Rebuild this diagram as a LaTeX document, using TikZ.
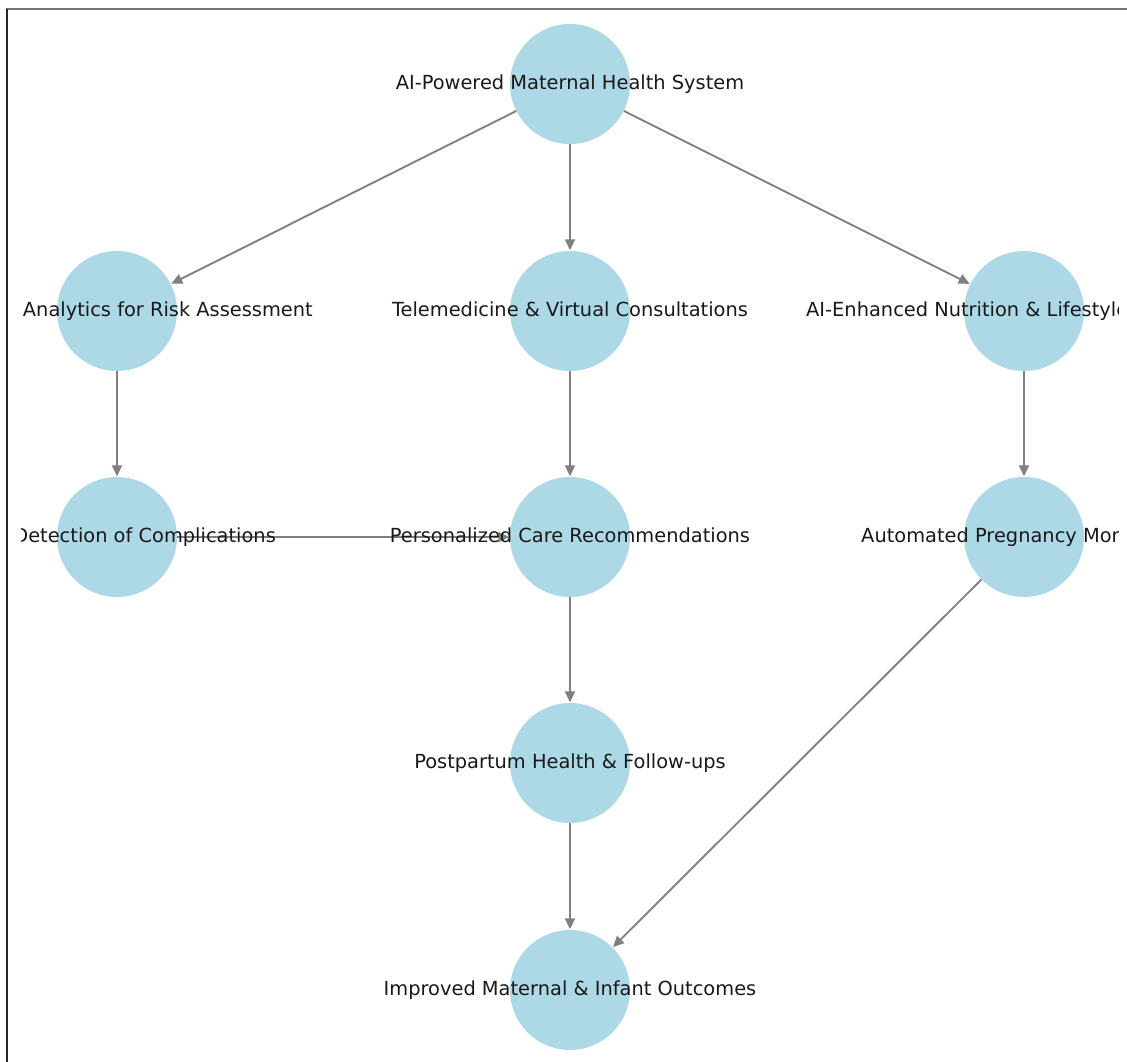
\documentclass[tikz,border=0pt]{standalone}
\usepackage{fontspec}
\setmainfont{DejaVu Sans}
\usetikzlibrary{arrows.meta,backgrounds}
\definecolor{nodeblue}{HTML}{ADD8E6}
\definecolor{edgegray}{HTML}{808080}
\tikzset{
  circ/.style={circle, fill=nodeblue, draw=none, minimum size=120pt, inner sep=0pt},
  lbl/.style={inner sep=0pt, text=black!90, text height=14.7pt, text depth=3.5pt, font=\fontsize{19.4}{23}\selectfont},
  edge/.style={draw=edgegray, line width=1.9pt, -{Triangle[length=11pt,width=10pt]}, shorten >=0.5pt},
  frame/.style={line width=2pt}
}
\begin{document}
\begin{tikzpicture}[x=1pt,y=-1pt]
\useasboundingbox (0,0) rectangle (1127,1062);
% frame
\draw[frame, draw=black!55] (6,9.5) -- (1127,9.5);
\draw[frame, draw=black!85] (7,9) -- (7,1062);
% circles
\node[circ] (c0) at (570,84) {};
\node[circ] (a1) at (117,311) {};
\node[circ] (t1) at (570,311) {};
\node[circ] (n1) at (1024,311) {};
\node[circ] (d2) at (117,537) {};
\node[circ] (p2) at (570,537) {};
\node[circ] (m2) at (1024,537) {};
\node[circ] (f3) at (570,763) {};
\node[circ] (o4) at (570,990) {};
% edges
\begin{pgfonlayer}{background}
\draw[edge] (c0) -- (a1);
\draw[edge] (c0) -- (t1);
\draw[edge] (c0) -- (n1);
\draw[edge] (a1) -- (d2);
\draw[edge] (t1) -- (p2);
\draw[edge] (n1) -- (m2);
\draw[edge] (d2) -- (p2);
\draw[edge] (p2) -- (f3);
\draw[edge] (f3) -- (o4);
\draw[edge] (m2) -- (o4);
\end{pgfonlayer}
% labels (clipped at the picture's edges as in the reference)
\begin{scope}
\clip (21,0) rectangle (1118,1062);
\node[lbl] (lc0) at (c0.center) {AI-Powered Maternal Health System};
\node[lbl] (la1) at (a1.center) {Predictive Analytics for Risk Assessment};
\node[lbl] (lt1) at (t1.center) {Telemedicine \& Virtual Consultations};
\node[lbl, anchor=west] (ln1) at (806,311) {AI-Enhanced Nutrition \& Lifestyle Guidance};
\node[lbl] (ld2) at (d2.center) {Early Detection of Complications};
\node[lbl] (lp2) at (p2.center) {Personalized Care Recommendations};
\node[lbl] (lm2) at (m2.center) {Automated Pregnancy Monitoring};
\node[lbl] (lf3) at (f3.center) {Postpartum Health \& Follow-ups};
\node[lbl] (lo4) at (o4.center) {Improved Maternal \& Infant Outcomes};
\end{scope}
\end{tikzpicture}
\end{document}
